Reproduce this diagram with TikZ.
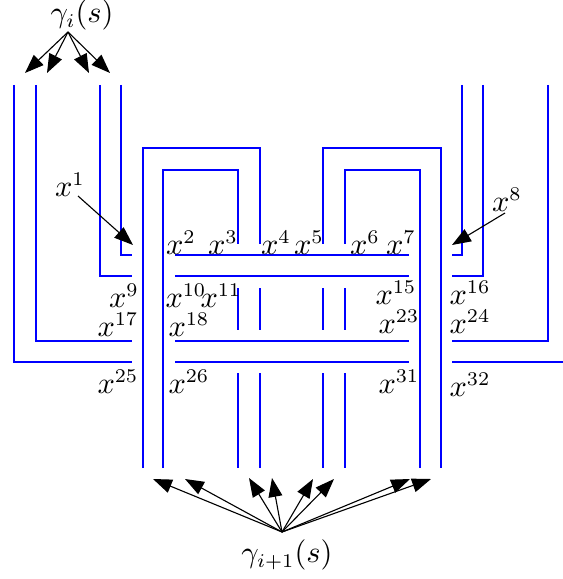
\documentclass[tikz,border=0pt]{standalone}
\usetikzlibrary{arrows.meta}
\begin{document}
\begin{tikzpicture}[x=0.36pt,y=-0.36pt,
  strand/.style={draw=blue,line width=0.8pt},
  ptr/.style={draw=black,line width=0.4pt,-{Triangle[length=6.8pt,width=5pt]}},
  lbl/.style={inner sep=0pt,font=\fontsize{10.5}{12}\selectfont}]
\useasboundingbox (0,0) rectangle (563,579);
% left strands
\draw[strand] (121,85) |- (132,255);
\draw[strand] (100,85) |- (132,276);
\draw[strand] (36,85) |- (132,341);
\draw[strand] (14,85) |- (132,362);
% right strands
\draw[strand] (462,85) |- (452,255);
\draw[strand] (483,85) |- (452,276);
\draw[strand] (548,85) |- (452,341);
\draw[strand] (452,362) -- (563,362);
% arches
\draw[strand] (143,468) |- (260,148) -- (260,244);
\draw[strand] (163,468) |- (238,170) -- (238,244);
\draw[strand] (323,244) |- (441,148) -- (441,468);
\draw[strand] (345,244) |- (420,170) -- (420,468);
% horizontals
\foreach \y in {255,276,341,362} \draw[strand] (175,\y) -- (409,\y);
% short verticals
\foreach \x in {238,260,323,345} {
  \draw[strand] (\x,288) -- (\x,330);
  \draw[strand] (\x,373) -- (\x,468);
}
% labels
\node[lbl] (gi) at (82,15) {$\gamma_i(s)$};
\node[lbl] (gj) at (287,555) {$\gamma_{i+1}(s)$};
\node[lbl] (x1) at (70,185) {$x^1$};
\node[lbl] (x2) at (181,243) {$x^2$};
\node[lbl] (x3) at (223,243) {$x^3$};
\node[lbl] (x4) at (276,243) {$x^4$};
\node[lbl] (x5) at (309,243) {$x^5$};
\node[lbl] (x6) at (365,243) {$x^6$};
\node[lbl] (x7) at (401,243) {$x^7$};
\node[lbl] (x8) at (507,200) {$x^8$};
\node[lbl] (x9) at (124,296) {$x^9$};
\node[lbl] (x10) at (186,296) {$x^{10}$};
\node[lbl] (x11) at (221,296) {$x^{11}$};
\node[lbl] (x15) at (396,293) {$x^{15}$};
\node[lbl] (x16) at (470,293) {$x^{16}$};
\node[lbl] (x17) at (118,325) {$x^{17}$};
\node[lbl] (x18) at (189,325) {$x^{18}$};
\node[lbl] (x23) at (399,322) {$x^{23}$};
\node[lbl] (x24) at (470,322) {$x^{24}$};
\node[lbl] (x25) at (118,382) {$x^{25}$};
\node[lbl] (x26) at (189,382) {$x^{26}$};
\node[lbl] (x31) at (399,382) {$x^{31}$};
\node[lbl] (x32) at (470,385) {$x^{32}$};
% arrow endpoints
\coordinate (gis) at (68,32);
\coordinate (gjn) at (282,532);
\coordinate (x1s) at (78,196);
\coordinate (x1t) at (133,245);
\coordinate (x8s) at (505,213);
\coordinate (x8t) at (452,245);
\foreach \i/\x in {1/25,2/47,3/89,4/110} \coordinate (t\i) at (\x,73);
\foreach \i/\x/\y in {1/153/479,2/185/479,3/249/478,4/272/478,5/313/479,6/334/479,7/410/479,8/431/479} \coordinate (b\i) at (\x,\y);
\foreach \i in {1,...,4} \draw[ptr] (gis) -- (t\i);
\foreach \i in {1,...,8} \draw[ptr] (gjn) -- (b\i);
\draw[ptr] (x1s) -- (x1t);
\draw[ptr] (x8s) -- (x8t);
\end{tikzpicture}
\end{document}
